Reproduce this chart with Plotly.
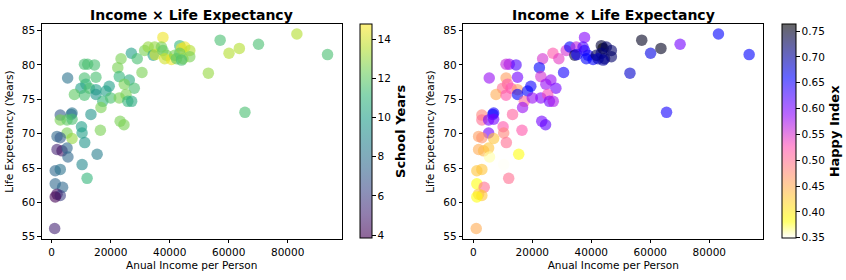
import numpy as np
import plotly.graph_objects as go

income = [37700, 83100, 57100, 70100, 93500, 60100, 63600, 53100, 65500,
          27000, 29000, 31500, 32700, 34900, 34400, 35100, 37200, 37700, 38900,
          38300, 40600, 41700, 43400, 44000, 45100, 46800, 43400, 42300, 44500,
          46800, 44000, 12200, 14500, 11100, 23500, 22400, 30600, 5400, 11100,
          15000, 11600, 9900, 12800, 15000, 19500, 22900, 26300, 24600, 28000,
          7700, 11100, 15000, 18400, 17300, 16700, 20000, 22900, 25200, 25800,
          27100, 6600, 13300, 23200, 24500, 16500, 2900, 6900, 2900, 5200,
          6900, 10100, 10300, 5200, 6900, 1800, 2900, 11200, 1800, 3500,
          5200, 5500, 15400, 10300, 12000, 1200, 2900, 1200, 3700, 1800,
          2900, 1200, 1000]
life = [84.0, 84.5, 83.6, 83.0, 81.5, 81.7, 82.4, 78.8, 73.1,
        81.7, 80.9, 82.1, 82.6, 82.6, 81.4, 81.5, 82.6, 82.1, 81.4,
        80.9, 80.8, 81.4, 82.8, 82.4, 82.6, 82.1, 81.7, 80.9, 80.9,
        81.2, 80.7, 80.1, 80.0, 80.1, 80.9, 79.6, 78.9, 78.1, 78.1,
        78.2, 77.2, 76.6, 76.6, 76.4, 76.9, 78.3, 77.8, 77.2, 76.6,
        75.7, 75.6, 75.7, 76.2, 74.7, 73.8, 75.2, 75.2, 75.7, 74.7,
        74.7, 72.8, 72.8, 71.8, 71.3, 70.5, 72.7, 73.0, 72.0, 72.0,
        72.1, 71.0, 70.1, 70.1, 69.3, 69.6, 69.4, 68.7, 67.7, 67.5,
        67.9, 66.6, 67.0, 65.5, 63.5, 64.6, 64.8, 62.7, 62.2, 61.2,
        61.0, 60.8, 56.2]
school = [14.5, 13.5, 11.5, 11.5, 11.5, 13.5, 13.5, 13.0, 11.5,
          10.0, 11.5, 12.5, 13.0, 13.0, 10.0, 14.0, 12.5, 12.0, 12.5,
          14.0, 14.5, 12.5, 11.0, 14.5, 14.5, 13.5, 12.0, 12.0, 13.0,
          12.5, 11.5, 11.5, 11.5, 11.5, 12.5, 12.5, 12.5, 8.0, 11.5,
          11.5, 11.0, 10.0, 11.5, 10.0, 10.0, 11.0, 10.5, 12.5, 11.5,
          12.0, 11.5, 9.5, 10.0, 11.0, 12.5, 11.5, 12.5, 12.5, 11.0,
          10.5, 8.0, 9.5, 12.5, 12.5, 12.5, 7.0, 8.0, 12.5, 12.0,
          11.5, 10.0, 10.0, 12.5, 13.0, 7.5, 7.0, 9.5, 5.0, 4.5,
          7.5, 7.5, 8.5, 9.0, 11.0, 7.5, 8.0, 7.5, 7.5, 4.3,
          6.0, 3.9, 5.0]
happy = [0.59, 0.66, 0.75, 0.60, 0.66, 0.67, 0.75, 0.68, 0.65,
         0.52, 0.54, 0.55, 0.66, 0.56, 0.74, 0.65, 0.62, 0.64, 0.65,
         0.66, 0.66, 0.73, 0.74, 0.76, 0.72, 0.72, 0.71, 0.69, 0.72,
         0.72, 0.70, 0.58, 0.62, 0.56, 0.55, 0.66, 0.65, 0.58, 0.46,
         0.60, 0.52, 0.50, 0.52, 0.46, 0.65, 0.55, 0.58, 0.58, 0.60,
         0.45, 0.52, 0.66, 0.66, 0.50, 0.58, 0.58, 0.59, 0.53, 0.60,
         0.57, 0.66, 0.51, 0.60, 0.61, 0.52, 0.48, 0.65, 0.50, 0.60,
         0.60, 0.52, 0.48, 0.60, 0.43, 0.46, 0.47, 0.50, 0.45, 0.44,
         0.43, 0.36, 0.38, 0.35, 0.50, 0.43, 0.43, 0.38, 0.50, 0.43,
         0.43, 0.38, 0.45]

x_ticks = [0, 20000, 40000, 60000, 80000]
y_ticks = [55, 60, 65, 70, 75, 80, 85]
school_ticks = [4, 6, 8, 10, 12, 14]
happy_ticks = [0.35, 0.40, 0.45, 0.50, 0.55, 0.60, 0.65, 0.70, 0.75]

ALPHA = 0.6
FONT = "DejaVu Sans"

viridis = ["#440154", "#482878", "#3e4989", "#31688e", "#26828e",
           "#1f9e89", "#35b779", "#6ece58", "#b5de2b", "#fde725"]


def hex_rgba(h, a):
    h = h.lstrip("#")
    return "rgba(%d,%d,%d,%.2f)" % (int(h[0:2], 16), int(h[2:4], 16), int(h[4:6], 16), a)


vir_scale = [[i / (len(viridis) - 1), hex_rgba(c, ALPHA)] for i, c in enumerate(viridis)]


def gnuplot2(x):
    r = np.clip(x / 0.32 - 0.78125, 0, 1)
    g = np.clip(2 * x - 0.84, 0, 1)
    b = np.clip(np.where(x < 0.25, 4 * x, np.where(x < 0.92, -2 * x + 1.84, x / 0.08 - 11.5)), 0, 1)
    return r, g, b


gp_scale = []
for t in np.linspace(0, 1, 41):
    r, g, b = gnuplot2(1 - t)
    gp_scale.append([float(t), "rgba(%d,%d,%d,%.2f)" % (round(r * 255), round(g * 255), round(b * 255), ALPHA)])

W, H = 846, 280
xd1 = [41.7 / W, 341.7 / W]
xd2 = [463.3 / W, 763.3 / W]
yd = [1 - 242.3 / H, 1 - 24.7 / H]

fig = go.Figure()
fig.add_trace(go.Scatter(
    x=income, y=life, mode="markers", xaxis="x", yaxis="y",
    marker=dict(size=11.5, color=school, colorscale=vir_scale, cmin=3.83, cmax=14.76,
                line=dict(width=0),
                colorbar=dict(x=360 / W, xanchor="left", xref="paper", xpad=0, thickness=11.7, thicknessmode="pixels",
                              len=216.7 / H, lenmode="fraction", y=1 - 133.3 / H, yanchor="middle", ypad=0,
                              outlinecolor="black", outlinewidth=1,
                              tickvals=school_ticks, ticks="outside", ticklen=3.5, tickcolor="black",
                              tickfont=dict(family=FONT, size=10.5, color="black"),
                              title=dict(text="<b>School Years</b>", side="right",
                                         font=dict(family=FONT, size=13, color="black")))),
    showlegend=False, hoverinfo="skip"))
fig.add_trace(go.Scatter(
    x=income, y=life, mode="markers", xaxis="x2", yaxis="y2",
    marker=dict(size=11.5, color=happy, colorscale=gp_scale, cmin=0.3487, cmax=0.7628,
                line=dict(width=0),
                colorbar=dict(x=782.3 / W, xanchor="left", xref="paper", xpad=0, thickness=14.4, thicknessmode="pixels",
                              len=216.7 / H, lenmode="fraction", y=1 - 133.3 / H, yanchor="middle", ypad=0,
                              outlinecolor="black", outlinewidth=1,
                              tickvals=happy_ticks, tickformat=".2f", ticks="outside", ticklen=3.5, tickcolor="black",
                              tickfont=dict(family=FONT, size=10.5, color="black"),
                              title=dict(text="<b>Happy Index</b>", side="right",
                                         font=dict(family=FONT, size=13, color="black")))),
    showlegend=False, hoverinfo="skip"))

axis_common = dict(showline=True, linecolor="black", linewidth=1, mirror=True, showgrid=False,
                   zeroline=False, ticks="outside", ticklen=3.5, tickcolor="black",
                   tickfont=dict(family=FONT, size=10.5, color="black"))
xcommon = dict(axis_common, range=[-3390, 98300], tickvals=x_ticks, tickformat="d",
               title=dict(text="Anual Income per Person", font=dict(family=FONT, size=10.5, color="black"), standoff=4))
ycommon = dict(axis_common, range=[54.7, 85.9], tickvals=y_ticks,
               title=dict(text="Life Expectancy (Years)", font=dict(family=FONT, size=10.5, color="black"), standoff=6))

fig.update_layout(
    width=W, height=H, margin=dict(l=0, r=0, t=0, b=0),
    paper_bgcolor="white", plot_bgcolor="white",
    xaxis=dict(xcommon, domain=xd1, anchor="y"),
    yaxis=dict(ycommon, domain=yd, anchor="x"),
    xaxis2=dict(xcommon, domain=xd2, anchor="y2"),
    yaxis2=dict(ycommon, domain=yd, anchor="x2"),
    annotations=[
        dict(text="<b>Income × Life Expectancy</b>", x=(xd1[0] + xd1[1]) / 2, y=1 - 15 / H,
             xref="paper", yref="paper", showarrow=False, xanchor="center", yanchor="middle",
             font=dict(family=FONT, size=14, color="black")),
        dict(text="<b>Income × Life Expectancy</b>", x=(xd2[0] + xd2[1]) / 2, y=1 - 15 / H,
             xref="paper", yref="paper", showarrow=False, xanchor="center", yanchor="middle",
             font=dict(family=FONT, size=14, color="black")),
    ],
)

fig.write_html("out.html")
